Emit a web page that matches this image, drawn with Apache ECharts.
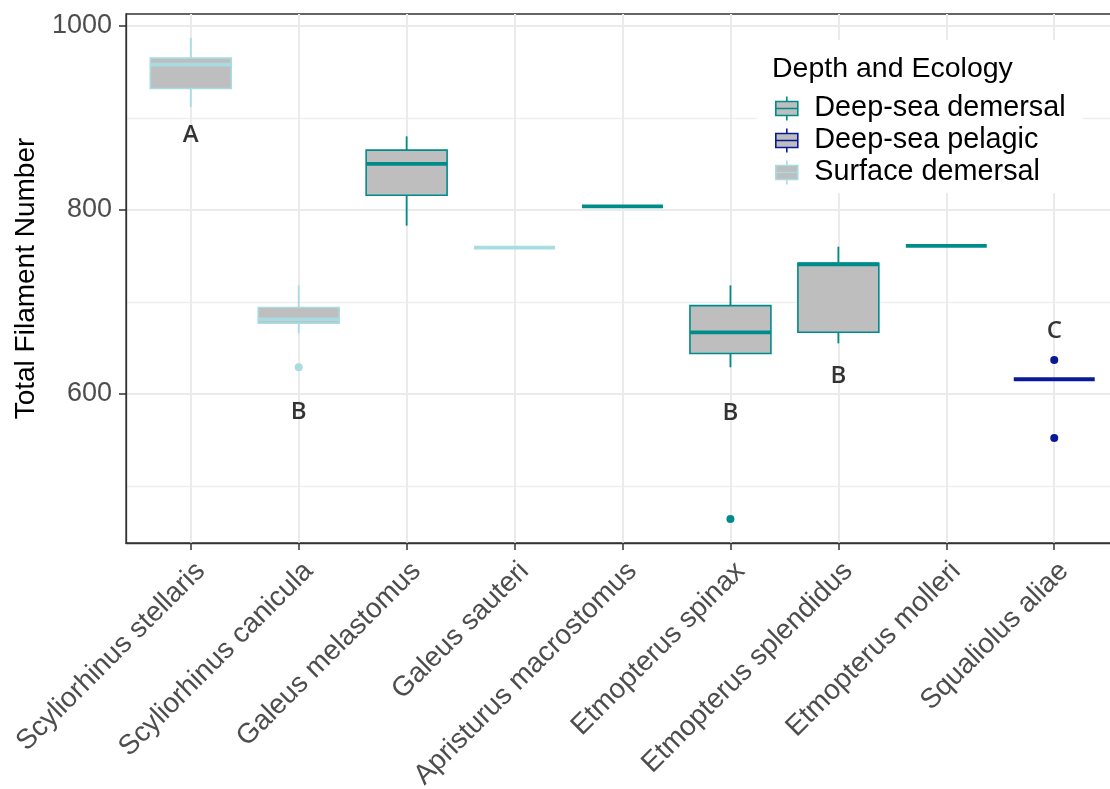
<!DOCTYPE html>
<html>
<head>
<meta charset="utf-8">
<script src="https://cdn.jsdelivr.net/npm/echarts@6/dist/echarts.min.js"></script>
<style>
  html, body { margin: 0; padding: 0; background: #fff; }
  #chart { width: 1110px; height: 789px; }
</style>
</head>
<body>
<div id="chart"></div>
<script>
// ---- data ----
const categories = [
  'Scyliorhinus stellaris', 'Scyliorhinus canicula', 'Galeus melastomus',
  'Galeus sauteri', 'Apristurus macrostomus', 'Etmopterus spinax',
  'Etmopterus splendidus', 'Etmopterus molleri', 'Squaliolus aliae'
];
const groups = ['Deep-sea demersal', 'Deep-sea pelagic', 'Surface demersal'];
const speciesGroup = [2, 2, 0, 2, 0, 0, 0, 0, 1];
// boxplot statistics per species
const whiskerLow  = [912, 666, 783, 759, 804, 629, 655, 761, 616];
const q1          = [932, 677, 816, 759, 804, 644, 667, 761, 616];
const median      = [958, 681, 850, 759, 804, 667, 741, 761, 616];
const q3          = [965, 694, 865, 759, 804, 696, 742, 761, 616];
const whiskerHigh = [987, 718, 880, 759, 804, 718, 760, 761, 616];
// outliers
const outlierSpecies = [1, 5, 8, 8];
const outlierValues  = [629, 464, 637, 552];
// significance letters
const letterSpecies = [0, 1, 5, 6, 8];
const letterText    = ['A', 'B', 'B', 'B', 'C'];
const letterY       = [881, 580, 579, 619, 668];
// axis ticks
const yMajorTicks = [600, 800, 1000];
const yMinorTicks = [500, 700, 900];

// ---- styling ----
const groupColors = ['#008B8B', '#0A1A96', '#A8DCE2'];
const boxFill = '#BEBEBE';
const font = 'Liberation Sans, Arial, sans-serif';

function renderBox(params, api) {
  const x = api.value(0);
  const lo = api.coord([x, api.value(1)]);
  const b1 = api.coord([x, api.value(2)]);
  const md = api.coord([x, api.value(3)]);
  const b3 = api.coord([x, api.value(4)]);
  const hi = api.coord([x, api.value(5)]);
  const bw = api.size([1, 0])[0] * 0.75;
  const color = api.visual('color');
  const children = [];
  if (lo[1] - b1[1] > 0.5) children.push({ type: 'line', shape: { x1: lo[0], y1: lo[1], x2: b1[0], y2: b1[1] }, style: { stroke: color, lineWidth: 1.8 } });
  if (b3[1] - hi[1] > 0.5) children.push({ type: 'line', shape: { x1: b3[0], y1: b3[1], x2: hi[0], y2: hi[1] }, style: { stroke: color, lineWidth: 1.8 } });
  if (b1[1] - b3[1] > 0.5) children.push({ type: 'rect', shape: { x: b1[0] - bw / 2, y: b3[1], width: bw, height: b1[1] - b3[1] }, style: { fill: boxFill, stroke: color, lineWidth: 1.6 } });
  children.push({ type: 'line', shape: { x1: md[0] - bw / 2, y1: md[1], x2: md[0] + bw / 2, y2: md[1] }, style: { stroke: color, lineWidth: 3.8 } });
  return { type: 'group', children: children };
}

const boxSeries = groups.map((g, gi) => ({
  type: 'custom',
  name: g,
  xAxisIndex: 0, yAxisIndex: 0,
  itemStyle: { color: groupColors[gi] },
  renderItem: renderBox,
  encode: { x: 0, y: [1, 2, 3, 4, 5] },
  data: categories.map((c, i) => speciesGroup[i] === gi
      ? [i, whiskerLow[i], q1[i], median[i], q3[i], whiskerHigh[i]] : null).filter(d => d),
  z: 3
}));

const outlierSeries = {
  type: 'scatter',
  name: 'outliers',
  symbol: 'circle',
  symbolSize: 8,
  data: outlierSpecies.map((s, i) => ({
    value: [s, outlierValues[i]],
    itemStyle: { color: groupColors[speciesGroup[s]], opacity: 1 }
  })),
  z: 4
};

const letterSeries = {
  type: 'scatter',
  name: 'letters',
  symbolSize: 0,
  data: letterSpecies.map((s, i) => ({ value: [s, letterY[i]], label: { formatter: letterText[i] } })),
  label: { show: true, position: 'inside', color: '#000', fontSize: 24, fontWeight: 600, fontFamily: 'Open Sans, Lato, sans-serif' },
  z: 5
};

const iconPath = 'path://M12,0L12,5M1,5L23,5L23,19L1,19ZM1,12L23,12M12,19L12,24';

const option = {
  backgroundColor: '#fff',
  animation: false,
  title: {
    text: 'Depth and Ecology',
    left: 767, top: 50,
    z: 20,
    textStyle: { fontFamily: font, fontSize: 28.5, fontWeight: 'normal', color: '#000' }
  },
  legend: {
    orient: 'vertical',
    left: 757, top: 40,
    padding: [54, 17, 6, 18],
    backgroundColor: '#fff',
    selectedMode: false,
    itemWidth: 25, itemHeight: 24, itemGap: 3,
    textStyle: { fontFamily: font, fontSize: 28.8, color: '#000', lineHeight: 28, padding: [0, 0, 0, 10] },
    data: groups.map((g, gi) => ({
      name: g,
      icon: iconPath,
      itemStyle: { color: boxFill, borderColor: groupColors[gi], borderWidth: 1.6 }
    })),
    z: 10
  },
  grid: {
    left: 126, top: 14, width: 993, height: 529,
    outerBoundsMode: 'none', containLabel: false,
    show: true, borderColor: '#333', borderWidth: 1.3, backgroundColor: 'transparent'
  },
  xAxis: {
    type: 'value',
    min: -0.6, max: 8.6,
    axisLine: { show: true, onZero: false, lineStyle: { color: '#333', width: 1.3 } },
    axisTick: { show: true, length: 7, lineStyle: { color: '#333', width: 1.5 }, customValues: categories.map((c, i) => i) },
    axisLabel: {
      customValues: categories.map((c, i) => i),
      formatter: v => categories[Math.round(v)],
      rotate: 45, margin: 14, verticalAlign: 'top',
      fontFamily: font, fontSize: 28, color: '#4D4D4D'
    },
    splitLine: { show: true, lineStyle: { color: '#EBEBEB', width: 2 } }
  },
  yAxis: [{
    type: 'value',
    min: 438, max: 1013,
    name: 'Total Filament Number',
    nameLocation: 'middle', nameRotate: 90, nameGap: 86,
    nameTextStyle: { fontFamily: font, fontSize: 28, color: '#000' },
    axisLine: { show: true, onZero: false, lineStyle: { color: '#333', width: 1.3 } },
    axisTick: { show: true, length: 7, lineStyle: { color: '#333', width: 1.5 }, customValues: yMajorTicks },
    axisLabel: { customValues: yMajorTicks, formatter: v => String(v), margin: 14, fontFamily: font, fontSize: 27, color: '#4D4D4D' },
    splitLine: { show: true, lineStyle: { color: '#EBEBEB', width: 2 } }
  }, {
    type: 'value',
    min: 438, max: 1013,
    position: 'left',
    axisLine: { show: false, onZero: false },
    axisTick: { show: false, customValues: yMinorTicks },
    axisLabel: { show: false, customValues: yMinorTicks },
    splitLine: { show: true, lineStyle: { color: '#EFEFEF', width: 1.3 } }
  }],
  series: [...boxSeries, outlierSeries, letterSeries]
};

const chart = echarts.init(document.getElementById('chart'), null, { renderer: 'canvas' });
chart.setOption(option);
</script>
</body>
</html>
